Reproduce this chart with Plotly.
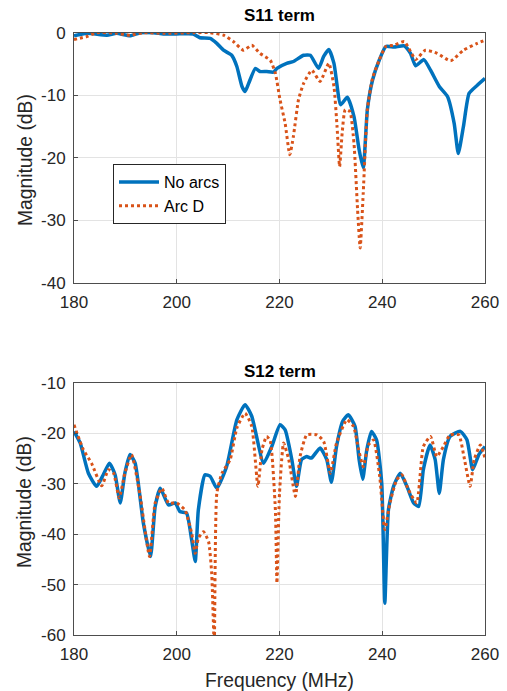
import plotly.graph_objects as go

# ---------------- data ----------------
s11_noarc_f = [180, 182.5, 186.4, 188.3, 190.9, 192.9, 195.5, 197.4, 199.9, 203.2, 204.5, 206.5, 207.8, 209.1,
               210.7, 211.7, 212.7, 213.3, 214, 215.3, 216.2, 217.5, 218.8, 219.5, 221.4, 222.7, 224.7, 226,
               227.6, 228.6, 229.6, 230.6, 231.9, 233.2, 234.5, 235.5, 236.3, 237.1, 238.1, 239.4, 240.7,
               242.3, 244.3, 245.5, 246.5, 248.1, 249.4, 251.1, 252.7, 254, 254.8, 255.8, 256.9, 258.5, 260]
s11_noarc_db = [-0.5, -0.1, -0.4, -0.1, -0.5, 0, 0, -0.2, -0.2, -0.2, -0.8, -0.9, -1.7, -2.8,
                -3.6, -5.4, -8.6, -9.4, -8.1, -5.7, -6.2, -6.2, -6.3, -5.7, -4.9, -4.6, -3.6, -3.6,
                -5.7, -3.8, -2.7, -4.9, -11.5, -10.3, -13.4, -18.7, -21.6, -12.3, -7.6, -4.4, -2.2,
                -2.3, -2.1, -3.3, -5.3, -4.3, -6.0, -8.6, -10.2, -14.5, -19.3, -15.0, -9.7, -8.4, -7.3]

s11_arcd_f = [180, 182.5, 184.4, 188.3, 190.9, 193.5, 197.4, 203.2, 206.5, 209.1, 211, 213, 214.6, 216.2,
              218.2, 219.2, 220.1, 221.1, 222, 222.7, 223.7, 224.7, 226.3, 227.9, 229.6, 230.6, 231.2,
              231.7, 232.2, 232.8, 233.7, 234.5, 235.2, 235.7, 236.3, 237.1, 238.1, 239.4, 240.7, 242.3,
              244.3, 245.5, 246.5, 248.4, 250.7, 253.3, 255.8, 258.5, 260]
s11_arcd_db = [-1.1, -0.6, 0, -0.1, -0.4, 0, -0.1, 0, 0, -0.4, -1.4, -2.8, -2.0, -3.3,
               -4.4, -6.5, -10.7, -14.5, -19.5, -16.6, -10.7, -8.1, -6.0, -7.8, -4.9, -8.6, -15.0,
               -21.4, -16.0, -12.3, -12.6, -17.7, -28.3, -34.4, -25.6, -12.3, -7.3, -4.4, -2.2, -2.0,
               -1.4, -3.0, -4.3, -2.8, -3.3, -4.5, -2.8, -1.7, -1.2]

s12_noarc_f = [180, 181.2, 182.8, 184.4, 185.7, 186.9, 188, 189, 189.9, 190.9, 191.9, 193.5, 194.9, 195.8,
               196.8, 198.4, 199.7, 200.6, 201.9, 202.9, 203.6, 204.2, 205.5, 206.5, 207.8, 209.7, 211.7,
               213.3, 214.6, 216.9, 218.5, 220.1, 221.1, 222.4, 223.3, 224.3, 225.3, 226.2, 227.9, 229.2,
               230.1, 231.1, 232.3, 233.4, 234.7, 235.5, 236.2, 237, 237.9, 238.9, 239.9, 240.5, 241.2,
               242.2, 243.5, 244.8, 246.1, 247.1, 248, 249.3, 250.3, 251.1, 251.9, 253.2, 255.2, 256.5,
               257.6, 258.8, 260]
s12_noarc_db = [-19.6, -21.9, -27.9, -30.5, -28.2, -25.9, -28.2, -33.8, -27.9, -24.2, -25.9, -37.8, -44.4,
                -34.5, -30.9, -34.2, -33.8, -35.5, -35.8, -41.1, -45.4, -35.2, -28.2, -28.5, -30.9, -26.6,
                -17.3, -14.3, -16.6, -25.9, -22.6, -18.3, -19.3, -25.2, -30.5, -25.2, -24.6, -24.9, -22.9,
                -25.2, -29.7, -22.6, -17.6, -16.3, -18.6, -25.2, -29.1, -23.2, -19.6, -21.3, -29.9, -53.7,
                -35.2, -30.5, -27.9, -30.5, -33.8, -34.5, -27.2, -22.3, -25.2, -31.9, -25.2, -20.6, -19.6,
                -21.3, -27.2, -24.2, -22.6]

s12_arcd_f = [180, 181.8, 183.4, 185.4, 186.7, 187.7, 188.8, 189.9, 191.2, 192.8, 194.7, 195.8, 197.1,
              198.4, 200, 201.6, 202.9, 203.6, 204.2, 205.2, 206.2, 206.8, 207.3, 207.8, 208.8, 210.4,
              211.7, 213.3, 214.6, 215.8, 216.6, 217.5, 218.2, 219.2, 219.5, 220, 220.8, 221.8, 223.1,
              224, 225.3, 227.3, 228.6, 229.9, 231.1, 233.1, 234.4, 235.4, 236.3, 237.3, 238.3, 239.5,
              240.5, 241.5, 242.8, 243.8, 245.1, 246.7, 248, 249.4, 250.6, 251.9, 253.2, 254.9, 255.9,
              257.1, 257.9, 259.1, 260]
s12_arcd_db = [-18.3, -23.2, -25.9, -30.4, -27.2, -27.9, -32.8, -27.9, -24.2, -31.9, -44.4, -33.8, -30.9,
               -33.8, -33.8, -35.2, -39.8, -43.8, -40.8, -39.5, -41.5, -47.7, -62.0, -31.9, -27.9, -25.2,
               -18.9, -16.0, -18.6, -30.5, -23.2, -20.6, -21.5, -35.2, -49.7, -31.9, -21.9, -25.2, -32.5,
               -24.6, -20.3, -20.3, -21.6, -27.9, -21.9, -17.3, -18.6, -23.2, -26.6, -22.3, -21.3, -28.5,
               -39.1, -33.8, -29.2, -28.2, -31.2, -33.8, -22.6, -20.6, -24.6, -22.6, -20.3, -20.3, -24.6,
               -30.5, -25.2, -22.3, -24.9]

x_ticks = [180, 200, 220, 240, 260]
x_ticklabels = ["180", "200", "220", "240", "260"]
y1_ticks = [0, -10, -20, -30, -40]
y1_ticklabels = ["0", "-10", "-20", "-30", "-40"]
y2_ticks = [-10, -20, -30, -40, -50, -60]
y2_ticklabels = ["-10", "-20", "-30", "-40", "-50", "-60"]

BLUE = "#0072BD"
ORANGE = "#D95319"
FONT = "Liberation Sans, Arial, sans-serif"
AX = "#262626"
AXLINE = "#4d4d4d"

W, H = 507, 691
fig = go.Figure()

def add(x, y, name, color, dash, width, xa, ya, show):
    fig.add_trace(go.Scatter(x=x, y=y, name=name, mode="lines", xaxis=xa, yaxis=ya,
                             line=dict(color=color, width=width, dash=dash, shape="spline", smoothing=0.5),
                             showlegend=show))

add(s11_noarc_f, s11_noarc_db, "No arcs", BLUE, "solid", 3.5, "x", "y", True)
add(s11_arcd_f, s11_arcd_db, "Arc D", ORANGE, "dot", 3, "x", "y", True)
add(s12_noarc_f, s12_noarc_db, "No arcs", BLUE, "solid", 3.5, "x2", "y2", False)
add(s12_arcd_f, s12_arcd_db, "Arc D", ORANGE, "dot", 3, "x2", "y2", False)

xd = [74 / W, 485 / W]
y1d = [1 - 283 / H, 1 - 32.7 / H]
y2d = [1 - 635 / H, 1 - 383 / H]

common_x = dict(range=[180, 260], tickvals=x_ticks, ticktext=x_ticklabels, showgrid=True,
                gridcolor="#E3E3E3", gridwidth=1, automargin=False, ticklabelstandoff=4,
                showline=True, linecolor=AXLINE, linewidth=1, mirror=True, ticks="inside", ticklen=4,
                tickcolor=AXLINE, tickfont=dict(family=FONT, size=17, color=AX), zeroline=False, domain=xd)
common_y = dict(showgrid=True, gridcolor="#E3E3E3", gridwidth=1, showline=True, linecolor=AXLINE, linewidth=1,
                mirror=True, ticks="inside", ticklen=4, tickcolor=AXLINE, automargin=False,
                ticklabelstandoff=4,
                tickfont=dict(family=FONT, size=17, color=AX), zeroline=False)

title_font = dict(family=FONT, size=17, color="black")
label_font = dict(family=FONT, size=19.3, color=AX)

fig.update_layout(
    width=W, height=H, margin=dict(l=0, r=0, t=0, b=0),
    paper_bgcolor="white", plot_bgcolor="white",
    xaxis=dict(common_x, anchor="y"),
    yaxis=dict(common_y, range=[-40, 0], tickvals=y1_ticks, ticktext=y1_ticklabels, domain=y1d, anchor="x"),
    xaxis2=dict(common_x, anchor="y2"),
    yaxis2=dict(common_y, range=[-60, -10], tickvals=y2_ticks, ticktext=y2_ticklabels, domain=y2d, anchor="x2"),
    legend=dict(x=113 / W, y=1 - 164 / H, xanchor="left", yanchor="top", bgcolor="white",
                bordercolor=AX, borderwidth=1, font=dict(family=FONT, size=16, color="black"),
                tracegroupgap=0, itemwidth=40),
    annotations=[
        dict(text="<b>S11 term</b>", x=(xd[0] + xd[1]) / 2, y=1 - 15 / H, xref="paper", yref="paper",
             showarrow=False, font=title_font, yanchor="middle"),
        dict(text="<b>S12 term</b>", x=(xd[0] + xd[1]) / 2, y=1 - 371 / H, xref="paper", yref="paper",
             showarrow=False, font=title_font, yanchor="middle"),
        dict(text="Magnitude (dB)", x=25 / W, y=1 - 160 / H, xref="paper", yref="paper", textangle=-90,
             showarrow=False, font=label_font, xanchor="center", yanchor="middle"),
        dict(text="Magnitude (dB)", x=25 / W, y=1 - 502 / H, xref="paper", yref="paper", textangle=-90,
             showarrow=False, font=label_font, xanchor="center", yanchor="middle"),
        dict(text="Frequency (MHz)", x=(xd[0] + xd[1]) / 2, y=1 - 680 / H, xref="paper", yref="paper",
             showarrow=False, font=label_font, xanchor="center", yanchor="middle"),
    ],
)

fig.write_html("out.html", config={"displayModeBar": False},
               post_script="document.body.style.margin='0';document.body.style.overflow='hidden';")
